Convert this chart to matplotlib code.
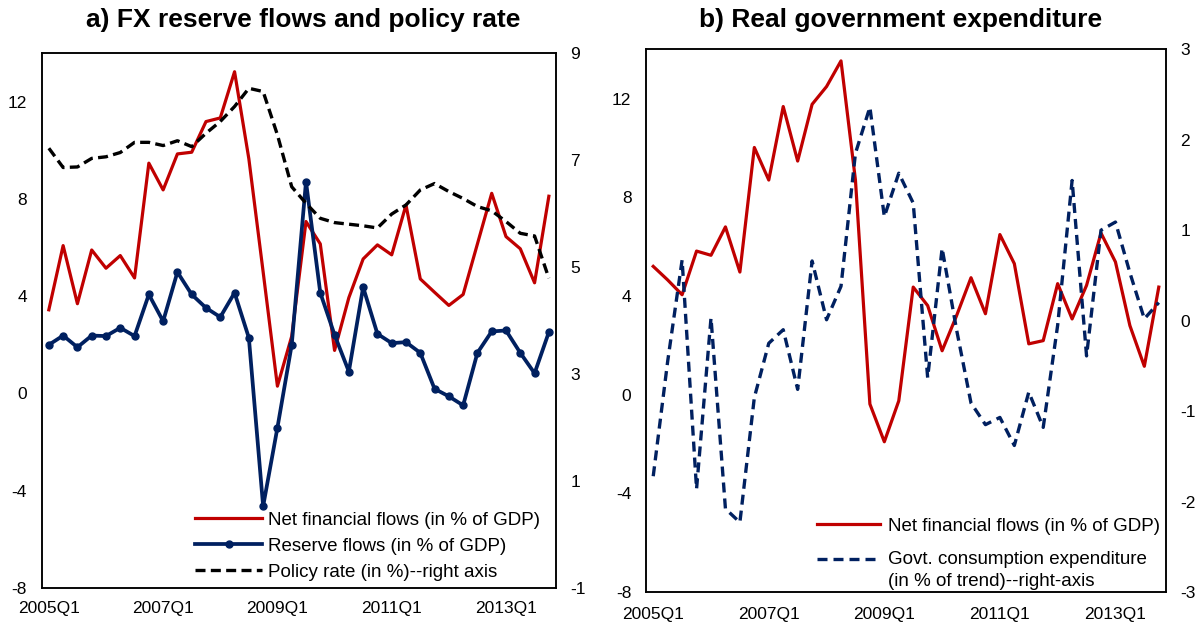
import matplotlib
matplotlib.use('Agg')
import matplotlib.pyplot as plt
from matplotlib.legend_handler import HandlerLine2D
import numpy as np

plt.rcParams['font.family'] = ['Liberation Sans', 'DejaVu Sans']
plt.rcParams['axes.unicode_minus'] = False

quarters = [f"{y}Q{q}" for y in range(2005, 2014) for q in range(1, 5)]
tick_labels = ["2005Q1", "2007Q1", "2009Q1", "2011Q1", "2013Q1"]

# Panel a
net_flows_a = [3.44, 6.08, 3.69, 5.90, 5.15, 5.67, 4.75, 9.47, 8.37, 9.85, 9.92, 11.18,
               11.33, 13.23, 9.65, 5.00, 0.30, 2.35, 7.07, 6.15, 1.77, 3.94, 5.53, 6.11,
               5.70, 7.75, 4.71, 4.16, 3.62, 4.07, 6.15, 8.23, 6.45, 5.95, 4.55, 8.11]
reserve_flows = [2.00, 2.38, 1.90, 2.38, 2.36, 2.70, 2.36, 4.07, 2.97, 4.99, 4.07, 3.52,
                 3.14, 4.14, 2.29, -4.64, -1.41, 2.00, 8.71, 4.14, 2.41, 0.90, 4.37, 2.45,
                 2.07, 2.11, 1.67, 0.19, -0.12, -0.49, 1.67, 2.55, 2.59, 1.67, 0.83, 2.52]
policy_rate = [7.22, 6.86, 6.87, 7.03, 7.06, 7.14, 7.33, 7.33, 7.27, 7.36, 7.25, 7.50,
               7.72, 8.00, 8.34, 8.28, 7.47, 6.50, 6.19, 5.91, 5.83, 5.80, 5.77, 5.73,
               5.99, 6.16, 6.44, 6.56, 6.41, 6.28, 6.13, 6.05, 5.85, 5.63, 5.58, 4.79]

# Panel b
net_flows_b = [5.20, 4.65, 4.05, 5.82, 5.65, 6.80, 4.97, 10.02, 8.70, 11.68, 9.47, 11.77,
               12.49, 13.53, 8.70, -0.38, -1.91, -0.25, 4.36, 3.61, 1.78, 3.20, 4.74, 3.28,
               6.49, 5.31, 2.06, 2.19, 4.50, 3.07, 4.43, 6.55, 5.38, 2.80, 1.15, 4.36]
govt_cons = [-1.72, -0.45, 0.67, -1.86, 0.03, -2.08, -2.23, -0.85, -0.25, -0.10, -0.76, 0.66,
             0.01, 0.38, 1.85, 2.36, 1.15, 1.63, 1.30, -0.63, 0.80, -0.10, -0.91, -1.15,
             -1.07, -1.38, -0.79, -1.18, -0.05, 1.55, -0.39, 1.00, 1.09, 0.53, 0.02, 0.20]

RED = '#C00000'
NAVY = '#002060'
W, H = 1201, 622
TICK_FS = 12.5
LEG_FS = 13.5


class TopAlignedHandler(HandlerLine2D):
    def __init__(self, shift, **kw):
        super().__init__(**kw)
        self.shift = shift

    def create_artists(self, legend, orig_handle, xdescent, ydescent, width, height,
                       fontsize, trans):
        arts = super().create_artists(legend, orig_handle, xdescent, ydescent, width,
                                      height, fontsize, trans)
        for a in arts:
            a.set_ydata(np.asarray(a.get_ydata()) + self.shift * fontsize)
        return arts


def frac_rect(l, r, t, b):
    return [l / W, 1 - b / H, (r - l) / W, (b - t) / H]


def style_axes(ax, ax2, ylim, yticks, y2lim, y2ticks):
    x = np.arange(len(quarters))
    ax.set_xlim(-0.5, len(quarters) - 0.5)
    ax.set_xticks([quarters.index(t) for t in tick_labels])
    ax.set_xticklabels(tick_labels)
    ax.set_ylim(*ylim)
    ax.set_yticks(yticks)
    ax2.set_ylim(*y2lim)
    ax2.set_yticks(y2ticks)
    ax.tick_params(axis='both', length=0, labelsize=TICK_FS)
    ax.tick_params(axis='y', pad=10.5)
    ax.tick_params(axis='x', pad=9.5)
    ax2.tick_params(axis='y', length=0, labelsize=TICK_FS, pad=10.5)
    for a in (ax, ax2):
        for s in a.spines.values():
            s.set_linewidth(1.1)
            s.set_color('black')
    return x


fig = plt.figure(figsize=(W / 100, H / 100), dpi=100)

# ---------- Panel a ----------
axa = fig.add_axes(frac_rect(41.7, 556, 53, 588))
axa2 = axa.twinx()
x = style_axes(axa, axa2, (-8, 14), [-8, -4, 0, 4, 8, 12], (-1, 9), [-1, 1, 3, 5, 7, 9])
la1, = axa.plot(x, net_flows_a, color=RED, lw=2.3,
                label='Net financial flows (in % of GDP)')
la2, = axa.plot(x, reserve_flows, color=NAVY, lw=2.7, marker='o', ms=5,
                label='Reserve flows (in % of GDP)')
la3, = axa2.plot(x, policy_rate, color='black', lw=2.4, dashes=(3, 1.6),
                 label='Policy rate (in %)--right axis')
axa2.legend(handles=[la1, la2, la3], loc='lower right', bbox_to_anchor=(0.969, 0.014),
            frameon=False, fontsize=LEG_FS,
            handlelength=3.55, handletextpad=0.32, labelspacing=0.47,
            borderaxespad=0, borderpad=0)

# ---------- Panel b ----------
axb = fig.add_axes(frac_rect(646, 1166, 49.3, 592))
axb2 = axb.twinx()
x = style_axes(axb, axb2, (-8, 14), [-8, -4, 0, 4, 8, 12], (-3, 3), [-3, -2, -1, 0, 1, 2, 3])
axb.tick_params(axis='x', pad=11)
lb1, = axb.plot(x, net_flows_b, color=RED, lw=2.3, label='Net financial flows (in % of GDP)')
lb2, = axb2.plot(x, govt_cons, color=NAVY, lw=2.4, dashes=(3, 1.8),
                 label='Govt. consumption expenditure\n(in % of trend)--right-axis')
legb = axb2.legend(handles=[lb1, lb2], loc='lower right', bbox_to_anchor=(0.988, 0.003),
                   frameon=False, fontsize=LEG_FS,
                   handlelength=3.35, handletextpad=0.42, labelspacing=0.9,
                   borderaxespad=0, borderpad=0,
                   handler_map={lb2: TopAlignedHandler(0.62)})
for t in legb.get_texts():
    t.set_linespacing(1.38)

# ---------- Titles ----------
fig.text(303.5 / W, 1 - 20 / H, 'a) FX reserve flows and policy rate', ha='center',
         va='center', fontsize=19, fontweight='bold')
fig.text(901 / W, 1 - 20 / H, 'b) Real government expenditure', ha='center',
         va='center', fontsize=19, fontweight='bold')

fig.savefig('out.png', dpi=100)
